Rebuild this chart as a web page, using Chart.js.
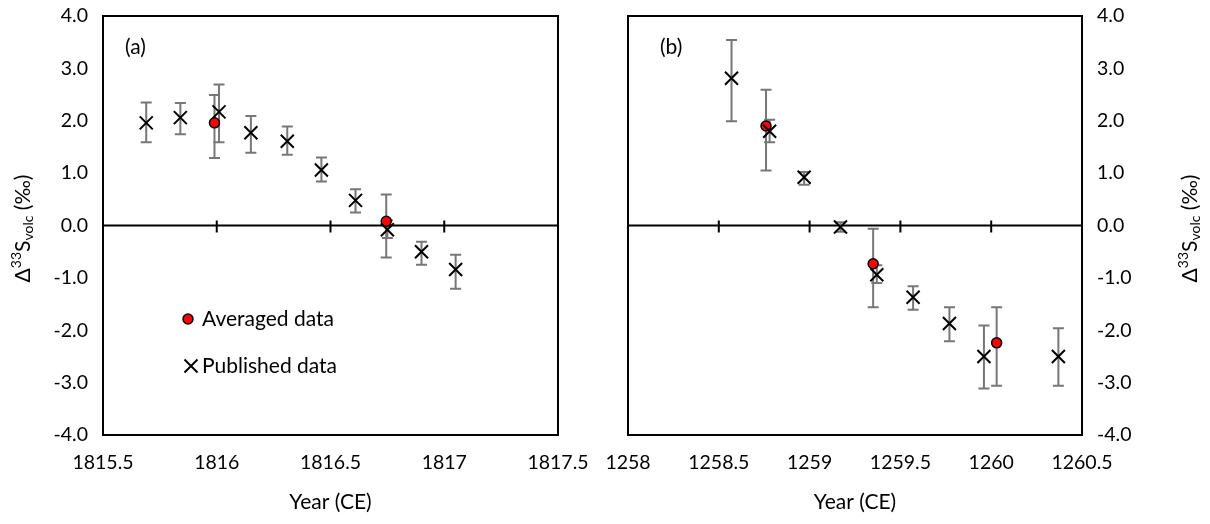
<!DOCTYPE html>
<html>
<head>
<meta charset="utf-8">
<script src="https://cdn.jsdelivr.net/npm/chart.js@4.4.1/dist/chart.umd.min.js"></script>
<style>
  body { margin: 0; background: #fff; }
  #wrap { position: relative; width: 1210px; height: 524px; }
  canvas { position: absolute; top: 0; }
</style>
</head>
<body>
<div id="wrap">
  <canvas id="left" width="600" height="524" style="left:0"></canvas>
  <canvas id="right" width="610" height="524" style="left:600px"></canvas>
</div>
<script>
// panel (a) - 1815 Tambora
const pubYearA = [1815.69, 1815.84, 1816.01, 1816.15, 1816.31, 1816.46, 1816.61, 1816.75, 1816.90, 1817.05];
const pubValA  = [1.96, 2.06, 2.17, 1.77, 1.61, 1.06, 0.48, -0.08, -0.50, -0.84];
const pubLoA   = [1.59, 1.74, 1.59, 1.39, 1.35, 0.84, 0.25, -0.24, -0.75, -1.21];
const pubHiA   = [2.35, 2.34, 2.69, 2.09, 1.89, 1.30, 0.69, 0.10, -0.31, -0.56];
const avgYearA = [1815.99, 1816.745];
const avgValA  = [1.96, 0.08];
const avgLoA   = [1.29, -0.61];
const avgHiA   = [2.49, 0.59];

// panel (b) - 1257 Samalas
const pubYearB = [1258.57, 1258.78, 1258.97, 1259.17, 1259.37, 1259.57, 1259.77, 1259.96, 1260.37];
const pubValB  = [2.81, 1.80, 0.92, -0.03, -0.94, -1.37, -1.87, -2.50, -2.50];
const pubLoB   = [1.99, 1.59, 0.78, -0.12, -1.10, -1.61, -2.21, -3.11, -3.06];
const pubHiB   = [3.54, 2.02, 1.02, 0.06, -0.76, -1.16, -1.56, -1.91, -1.96];
const avgYearB = [1258.76, 1259.35, 1260.03];
const avgValB  = [1.90, -0.73, -2.24];
const avgLoB   = [1.05, -1.56, -3.06];
const avgHiB   = [2.59, -0.06, -1.56];

const yTicks = [-4, -3, -2, -1, 0, 1, 2, 3, 4];
const legendLabels = ['Averaged data', 'Published data'];

const FONT = 'Lato, "Open Sans", sans-serif';
const SIZE = 19.5;   // tick labels
const TSIZE = 21;    // titles, legend, panel letters

const pts = (xs, ys) => xs.map((x, i) => ({ x, y: ys[i] }));

// frame + zero axis with crossing ticks
const frame = {
  id: 'frame',
  beforeDatasetsDraw(chart) {
    const { ctx, chartArea: a, scales: { x, y } } = chart;
    ctx.save();
    ctx.strokeStyle = '#000';
    ctx.lineWidth = 2;
    ctx.strokeRect(a.left, a.top, a.right - a.left, a.bottom - a.top);
    const y0 = y.getPixelForValue(0);
    ctx.beginPath();
    ctx.moveTo(a.left, y0); ctx.lineTo(a.right, y0);
    x.ticks.forEach(t => {
      if (t.value <= x.min || t.value >= x.max) return;
      const px = x.getPixelForValue(t.value);
      ctx.moveTo(px, y0 - 5); ctx.lineTo(px, y0 + 7);
    });
    ctx.stroke();
    ctx.restore();
  }
};

const errorBars = {
  id: 'errorBars',
  beforeDatasetsDraw(chart) {
    const { ctx, scales: { x, y } } = chart;
    ctx.save();
    ctx.strokeStyle = '#777';
    ctx.lineWidth = 2;
    chart.data.datasets.forEach(ds => {
      ds.data.forEach((p, i) => {
        const px = x.getPixelForValue(p.x);
        const top = y.getPixelForValue(ds.hi[i]);
        const bot = y.getPixelForValue(ds.lo[i]);
        ctx.beginPath();
        ctx.moveTo(px, top); ctx.lineTo(px, bot);
        ctx.moveTo(px - 5.5, top); ctx.lineTo(px + 5.5, top);
        ctx.moveTo(px - 5.5, bot); ctx.lineTo(px + 5.5, bot);
        ctx.stroke();
      });
    });
    ctx.restore();
  }
};

function drawCross(ctx, cx, cy, h) {
  ctx.beginPath();
  ctx.moveTo(cx - h, cy - h); ctx.lineTo(cx + h, cy + h);
  ctx.moveTo(cx - h, cy + h); ctx.lineTo(cx + h, cy - h);
  ctx.stroke();
}

// rotated axis title with super/subscript
function drawYTitle(ctx, cx, cy) {
  const parts = [
    ['\u0394', TSIZE, 0], ['33', 14, -7], ['S', TSIZE, 0], ['volc', 14, 5], [' (\u2030)', TSIZE, 0]
  ];
  ctx.save();
  ctx.translate(cx, cy);
  ctx.rotate(-Math.PI / 2);
  let total = 0;
  parts.forEach(p => { ctx.font = p[1] + 'px ' + FONT; total += ctx.measureText(p[0]).width; });
  let xx = -total / 2;
  ctx.fillStyle = '#000';
  ctx.textBaseline = 'middle';
  ctx.textAlign = 'left';
  parts.forEach(p => {
    ctx.font = p[1] + 'px ' + FONT;
    ctx.fillText(p[0], xx, p[2]);
    xx += ctx.measureText(p[0]).width;
  });
  ctx.restore();
}

function extras(label, labelDx, titleX, legend) {
  return {
    id: 'extras',
    afterDraw(chart) {
      const { ctx, chartArea: a } = chart;
      ctx.save();
      ctx.fillStyle = '#000';
      ctx.font = TSIZE + 'px ' + FONT;
      ctx.textBaseline = 'middle';
      ctx.textAlign = 'left';
      ctx.fillText(label, a.left + labelDx, a.top + 31);
      if (legend) {
        const lx = a.left + 85;
        ctx.beginPath();
        ctx.arc(lx, a.top + 303, 5, 0, Math.PI * 2);
        ctx.fillStyle = '#ff0000';
        ctx.fill();
        ctx.lineWidth = 1.5;
        ctx.strokeStyle = '#000';
        ctx.stroke();
        ctx.lineWidth = 2;
        drawCross(ctx, lx + 3, a.top + 350, 6.5);
        ctx.fillStyle = '#000';
        ctx.fillText(legendLabels[0], lx + 14, a.top + 303);
        ctx.fillText(legendLabels[1], lx + 14, a.top + 350);
      }
      drawYTitle(ctx, titleX, (a.top + a.bottom) / 2 + 3);
      ctx.restore();
    }
  };
}

function makeChart(id, cfg) {
  return new Chart(document.getElementById(id), {
    type: 'scatter',
    data: {
      datasets: [
        {
          label: legendLabels[1],
          data: pts(cfg.pubYear, cfg.pubVal),
          lo: cfg.pubLo, hi: cfg.pubHi,
          pointStyle: 'crossRot', pointRadius: 9.2, pointHoverRadius: 9.2,
          borderColor: '#000', borderWidth: 2, backgroundColor: '#000'
        },
        {
          label: legendLabels[0],
          data: pts(cfg.avgYear, cfg.avgVal),
          lo: cfg.avgLo, hi: cfg.avgHi,
          pointStyle: 'circle', pointRadius: 5, pointHoverRadius: 5,
          backgroundColor: '#ff0000', borderColor: '#000', borderWidth: 1.5
        }
      ]
    },
    options: {
      responsive: false,
      animation: false,
      events: [],
      layout: { padding: cfg.padding },
      plugins: { legend: { display: false }, tooltip: { enabled: false } },
      scales: {
        x: {
          type: 'linear', min: cfg.xMin, max: cfg.xMax,
          grid: { display: false, drawTicks: false },
          border: { display: false },
          ticks: {
            stepSize: 0.5, padding: 16, color: '#000',
            font: { family: FONT, size: SIZE },
            callback: v => String(v)
          },
          title: { display: true, text: 'Year (CE)', color: '#000', font: { family: FONT, size: TSIZE }, padding: { top: 4, bottom: 9 } },
          afterFit: s => { s.height = 89; s.paddingLeft = 0; s.paddingRight = 0; }
        },
        y: {
          position: cfg.yPos, min: -4, max: 4,
          grid: { display: false, drawTicks: false },
          border: { display: false },
          afterBuildTicks: s => { s.ticks = yTicks.map(v => ({ value: v })); },
          ticks: {
            padding: 15, color: '#000',
            font: { family: FONT, size: SIZE },
            callback: v => v.toFixed(1)
          },
          afterFit: s => { s.width = cfg.yWidth; s.paddingTop = 0; s.paddingBottom = 0; }
        }
      }
    },
    plugins: [frame, errorBars, extras(cfg.label, cfg.labelDx, cfg.titleX, cfg.legend)]
  });
}

makeChart('left', {
  pubYear: pubYearA, pubVal: pubValA, pubLo: pubLoA, pubHi: pubHiA,
  avgYear: avgYearA, avgVal: avgValA, avgLo: avgLoA, avgHi: avgHiA,
  xMin: 1815.5, xMax: 1817.5, yPos: 'left', yWidth: 103,
  padding: { top: 16, right: 42, left: 0, bottom: 0 },
  label: '(a)', labelDx: 22, titleX: 23, legend: true
});

makeChart('right', {
  pubYear: pubYearB, pubVal: pubValB, pubLo: pubLoB, pubHi: pubHiB,
  avgYear: avgYearB, avgVal: avgValB, avgLo: avgLoB, avgHi: avgHiB,
  xMin: 1258, xMax: 1260.5, yPos: 'right', yWidth: 128,
  padding: { top: 16, right: 0, left: 28, bottom: 0 },
  label: '(b)', labelDx: 32, titleX: 590, legend: false
});
</script>
</body>
</html>
